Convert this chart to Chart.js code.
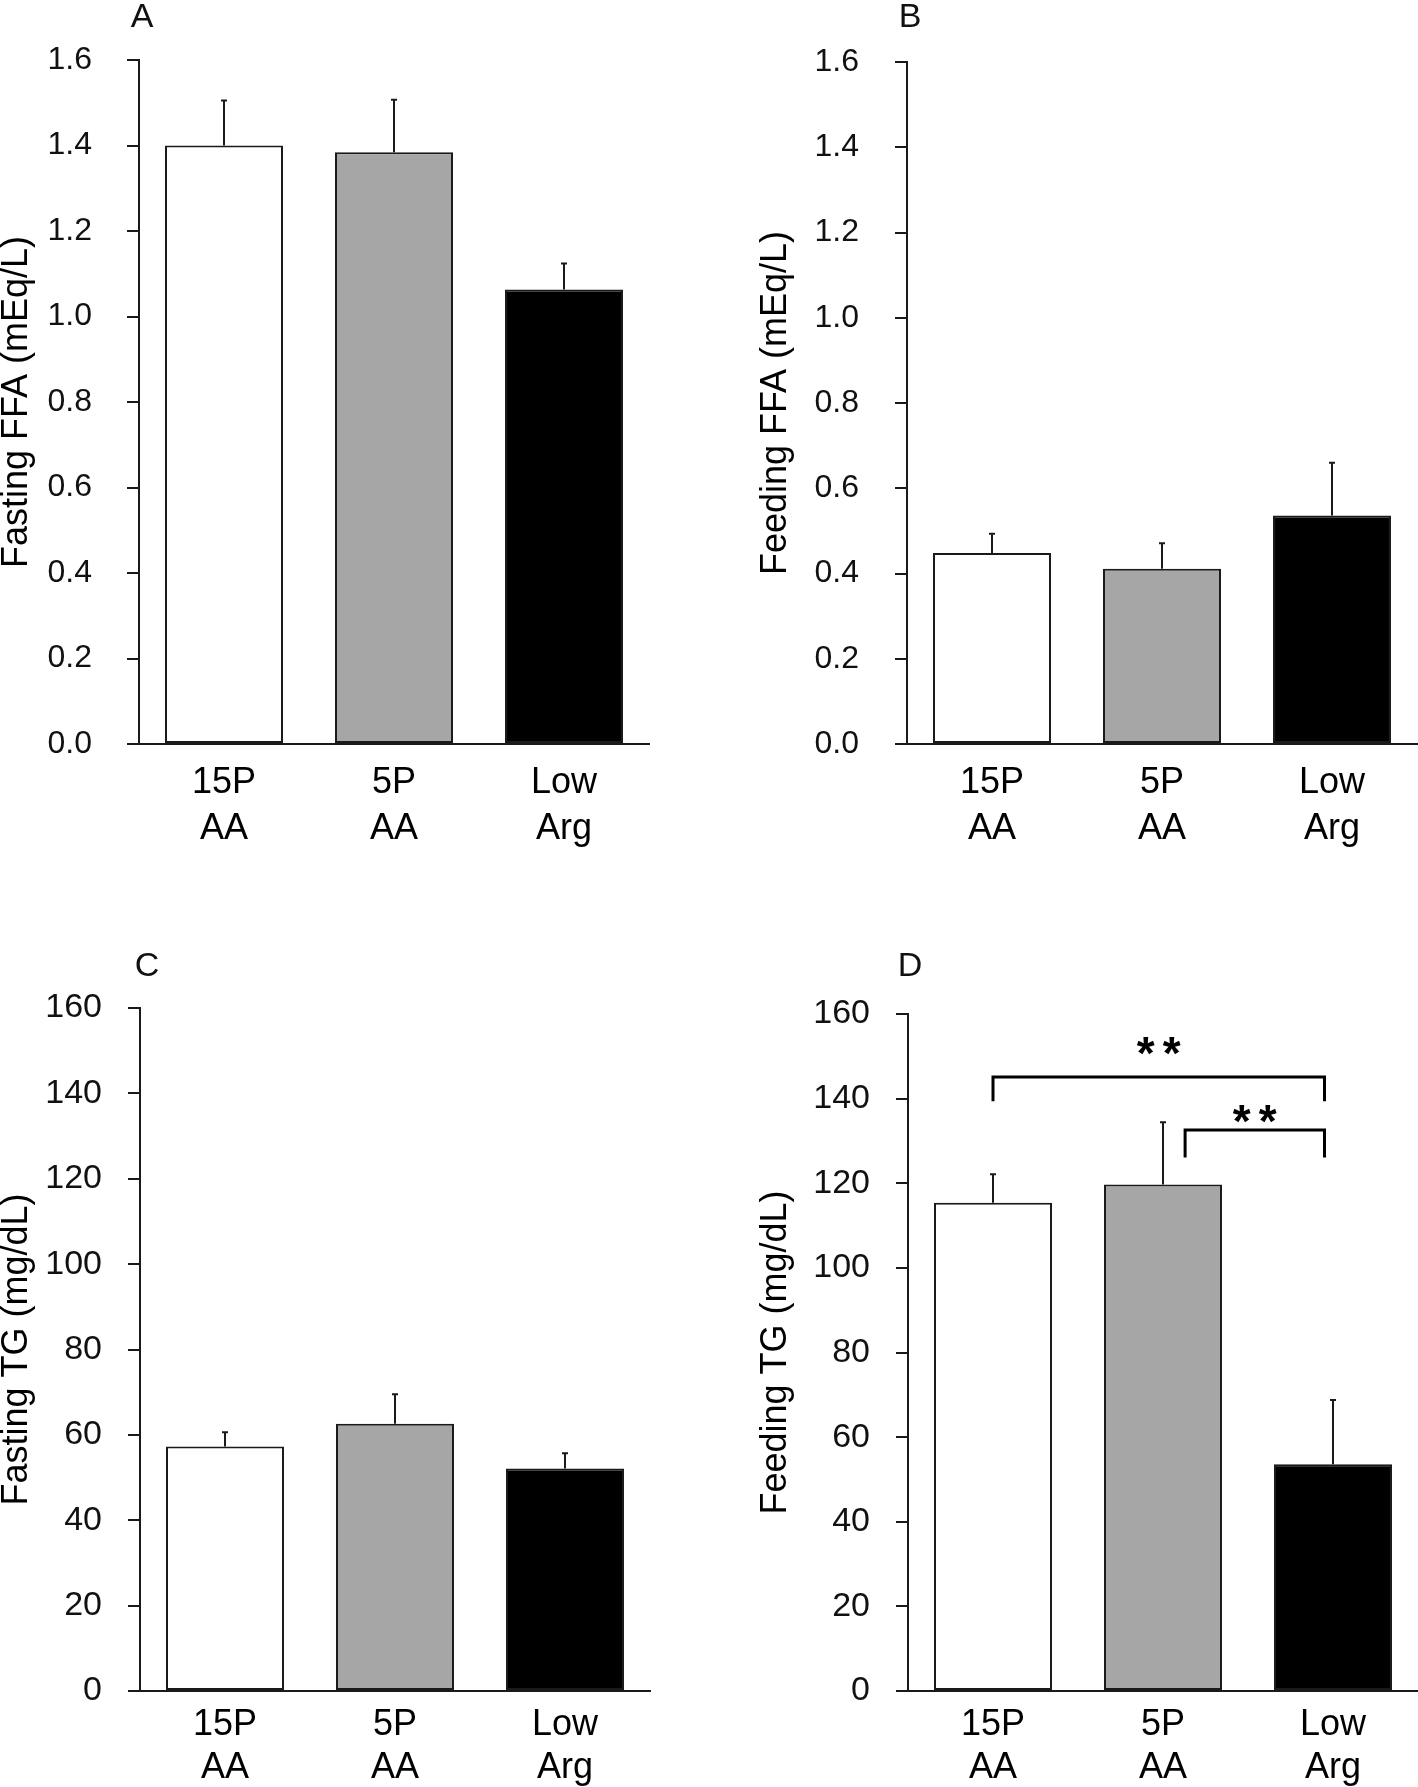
<!DOCTYPE html>
<html>
<head>
<meta charset="utf-8">
<script src="https://cdn.jsdelivr.net/npm/chart.js@4.4.1/dist/chart.umd.min.js"></script>
<style>
  body { margin: 0; background: #fff; }
  #page { position: relative; width: 1418px; height: 1787px; overflow: hidden; background: #fff; }
  .panel { position: absolute; }
  .letter {
    position: absolute;
    font-family: "Liberation Sans", Arial, sans-serif;
    font-size: 34px;
    line-height: 1;
    color: #111;
    transform: translateX(-50%);
  }
</style>
</head>
<body>
<div id="page">
  <div class="panel" style="left:0;top:0;width:709px;height:880px"><canvas id="chartA"></canvas></div>
  <div class="panel" style="left:709px;top:0;width:709px;height:880px"><canvas id="chartB"></canvas></div>
  <div class="panel" style="left:0;top:900px;width:709px;height:887px"><canvas id="chartC"></canvas></div>
  <div class="panel" style="left:709px;top:900px;width:709px;height:887px"><canvas id="chartD"></canvas></div>
  <div class="letter" style="left:142px;top:-2px">A</div>
  <div class="letter" style="left:910px;top:-2px">B</div>
  <div class="letter" style="left:147px;top:947px">C</div>
  <div class="letter" style="left:910px;top:947px">D</div>
</div>
<script>
// Data
const groups = [['15P', 'AA'], ['5P', 'AA'], ['Low', 'Arg']];
const barColors = ['#ffffff', '#a6a6a6', '#000000'];

const fastingFFA = [1.40, 1.384, 1.063];
const fastingFFASem = [0.105, 0.123, 0.061];
const feedingFFA = [0.448, 0.411, 0.536];
const feedingFFASem = [0.045, 0.060, 0.124];
const fastingTG = [57.3, 62.6, 52.1];
const fastingTGSem = [3.3, 6.9, 3.6];
const feedingTG = [115.4, 119.7, 53.6];
const feedingTGSem = [6.7, 14.7, 15.2];

const ffaTicks = ['0.0', '0.2', '0.4', '0.6', '0.8', '1.0', '1.2', '1.4', '1.6'];
const tgTicks = ['0', '20', '40', '60', '80', '100', '120', '140', '160'];

// significance brackets on panel D (category index / value units)
const sigFrom = [0, 1.13];
const sigTo = [1.95, 1.95];
const sigLevel = [145.1, 132.6];
const sigFoot = [139.4, 126.1];
const sigStarLevel = [152.0, 135.9];
const sigLabel = ['**', '**'];

const FONT = '"Liberation Sans", Arial, sans-serif';
const INK = '#1a1a1a';

// draws upper error bars from the sem array
const errorBars = {
    id: 'errorBars',
    afterDatasetsDraw(chart, args, opts) {
        const ctx = chart.ctx;
        const y = chart.scales.y;
        const meta = chart.getDatasetMeta(0);
        const values = chart.data.datasets[0].data;
        ctx.save();
        ctx.strokeStyle = INK;
        ctx.lineWidth = 2;
        meta.data.forEach((bar, i) => {
            const top = y.getPixelForValue(values[i] + opts.sem[i]);
            const base = y.getPixelForValue(values[i]);
            ctx.beginPath();
            ctx.moveTo(bar.x, base);
            ctx.lineTo(bar.x, top);
            ctx.moveTo(bar.x - 3, top);
            ctx.lineTo(bar.x + 3, top);
            ctx.stroke();
        });
        ctx.restore();
    }
};

// brackets with stars
const brackets = {
    id: 'brackets',
    afterDatasetsDraw(chart, args, opts) {
        if (!opts.show) return;
        const ctx = chart.ctx;
        const x = chart.scales.x;
        const y = chart.scales.y;
        const size = 46;
        ctx.save();
        ctx.strokeStyle = '#000';
        ctx.lineWidth = 3;
        ctx.fillStyle = '#000';
        ctx.font = 'bold ' + size + 'px ' + FONT;
        ctx.textAlign = 'center';
        ctx.textBaseline = 'alphabetic';
        for (let i = 0; i < sigFrom.length; i++) {
            const x1 = x.getPixelForValue(sigFrom[i]);
            const x2 = x.getPixelForValue(sigTo[i]);
            const yl = y.getPixelForValue(sigLevel[i]);
            const yf = y.getPixelForValue(sigFoot[i]);
            ctx.beginPath();
            ctx.moveTo(x1, yf);
            ctx.lineTo(x1, yl);
            ctx.lineTo(x2, yl);
            ctx.lineTo(x2, yf);
            ctx.stroke();
            const cx = (x1 + x2) / 2;
            const ys = y.getPixelForValue(sigStarLevel[i]) + 0.46 * size;
            const stars = sigLabel[i].split('');
            stars.forEach((s, k) => {
                ctx.fillText(s, cx + (k - (stars.length - 1) / 2) * 26, ys);
            });
        }
        ctx.restore();
    }
};

function makePanel(id, cfg) {
    return new Chart(document.getElementById(id), {
        type: 'bar',
        data: {
            labels: groups,
            datasets: [{
                data: cfg.values,
                backgroundColor: barColors,
                borderColor: INK,
                borderWidth: 2,
                borderSkipped: false,
                barPercentage: 0.694,
                categoryPercentage: 1.0
            }]
        },
        plugins: [errorBars, brackets],
        options: {
            responsive: true,
            maintainAspectRatio: false,
            animation: false,
            events: [],
            layout: {
                padding: { left: 0, top: cfg.top, right: cfg.right, bottom: 0 }
            },
            plugins: {
                legend: { display: false },
                tooltip: { enabled: false },
                errorBars: { sem: cfg.sem },
                brackets: { show: !!cfg.brackets }
            },
            scales: {
                x: {
                    offset: true,
                    grid: { display: false, drawTicks: false },
                    border: { display: true, color: INK, width: 2 },
                    ticks: {
                        color: '#000',
                        padding: cfg.xPad,
                        maxRotation: 0,
                        autoSkip: false,
                        font: { family: FONT, size: 36, lineHeight: cfg.xLine / 36 }
                    },
                    afterFit: s => { s.height = cfg.xHeight; }
                },
                y: {
                    min: 0,
                    max: cfg.max,
                    grid: {
                        display: true,
                        drawOnChartArea: false,
                        drawTicks: true,
                        tickLength: 12,
                        color: INK,
                        lineWidth: 2
                    },
                    border: { display: true, color: INK, width: 2 },
                    ticks: {
                        stepSize: cfg.max / 8,
                        color: '#111',
                        padding: cfg.yPad,
                        font: { family: FONT, size: cfg.tickSize },
                        callback: (v, i) => cfg.ticks[i]
                    },
                    title: {
                        display: true,
                        text: cfg.title,
                        color: '#000',
                        padding: { top: cfg.titlePad, bottom: 0 },
                        font: { family: FONT, size: 36, lineHeight: 1 }
                    },
                    afterFit: s => { s.width = cfg.yWidth; }
                }
            }
        }
    });
}

makePanel('chartA', {
    values: fastingFFA, sem: fastingFFASem, max: 1.6, ticks: ffaTicks,
    title: 'Fasting FFA (mEq/L)', top: 60, right: 60, yWidth: 139, xHeight: 136,
    yPad: 35, tickSize: 32, titlePad: -1, xPad: 16, xLine: 46
});
makePanel('chartB', {
    values: feedingFFA, sem: feedingFFASem, max: 1.6, ticks: ffaTicks,
    title: 'Feeding FFA (mEq/L)', top: 62, right: 1, yWidth: 198, xHeight: 136,
    yPad: 36, tickSize: 32, titlePad: 49, xPad: 16, xLine: 46
});
makePanel('chartC', {
    values: fastingTG, sem: fastingTGSem, max: 160, ticks: tgTicks,
    title: 'Fasting TG (mg/dL)', top: 108, right: 59, yWidth: 140, xHeight: 96,
    yPad: 26, tickSize: 34, titlePad: -1, xPad: 13, xLine: 43
});
makePanel('chartD', {
    values: feedingTG, sem: feedingTGSem, max: 160, ticks: tgTicks,
    title: 'Feeding TG (mg/dL)', top: 114, right: 0, yWidth: 199, xHeight: 96,
    yPad: 26, tickSize: 34, titlePad: 49, xPad: 13, xLine: 43, brackets: true
});
</script>
</body>
</html>
